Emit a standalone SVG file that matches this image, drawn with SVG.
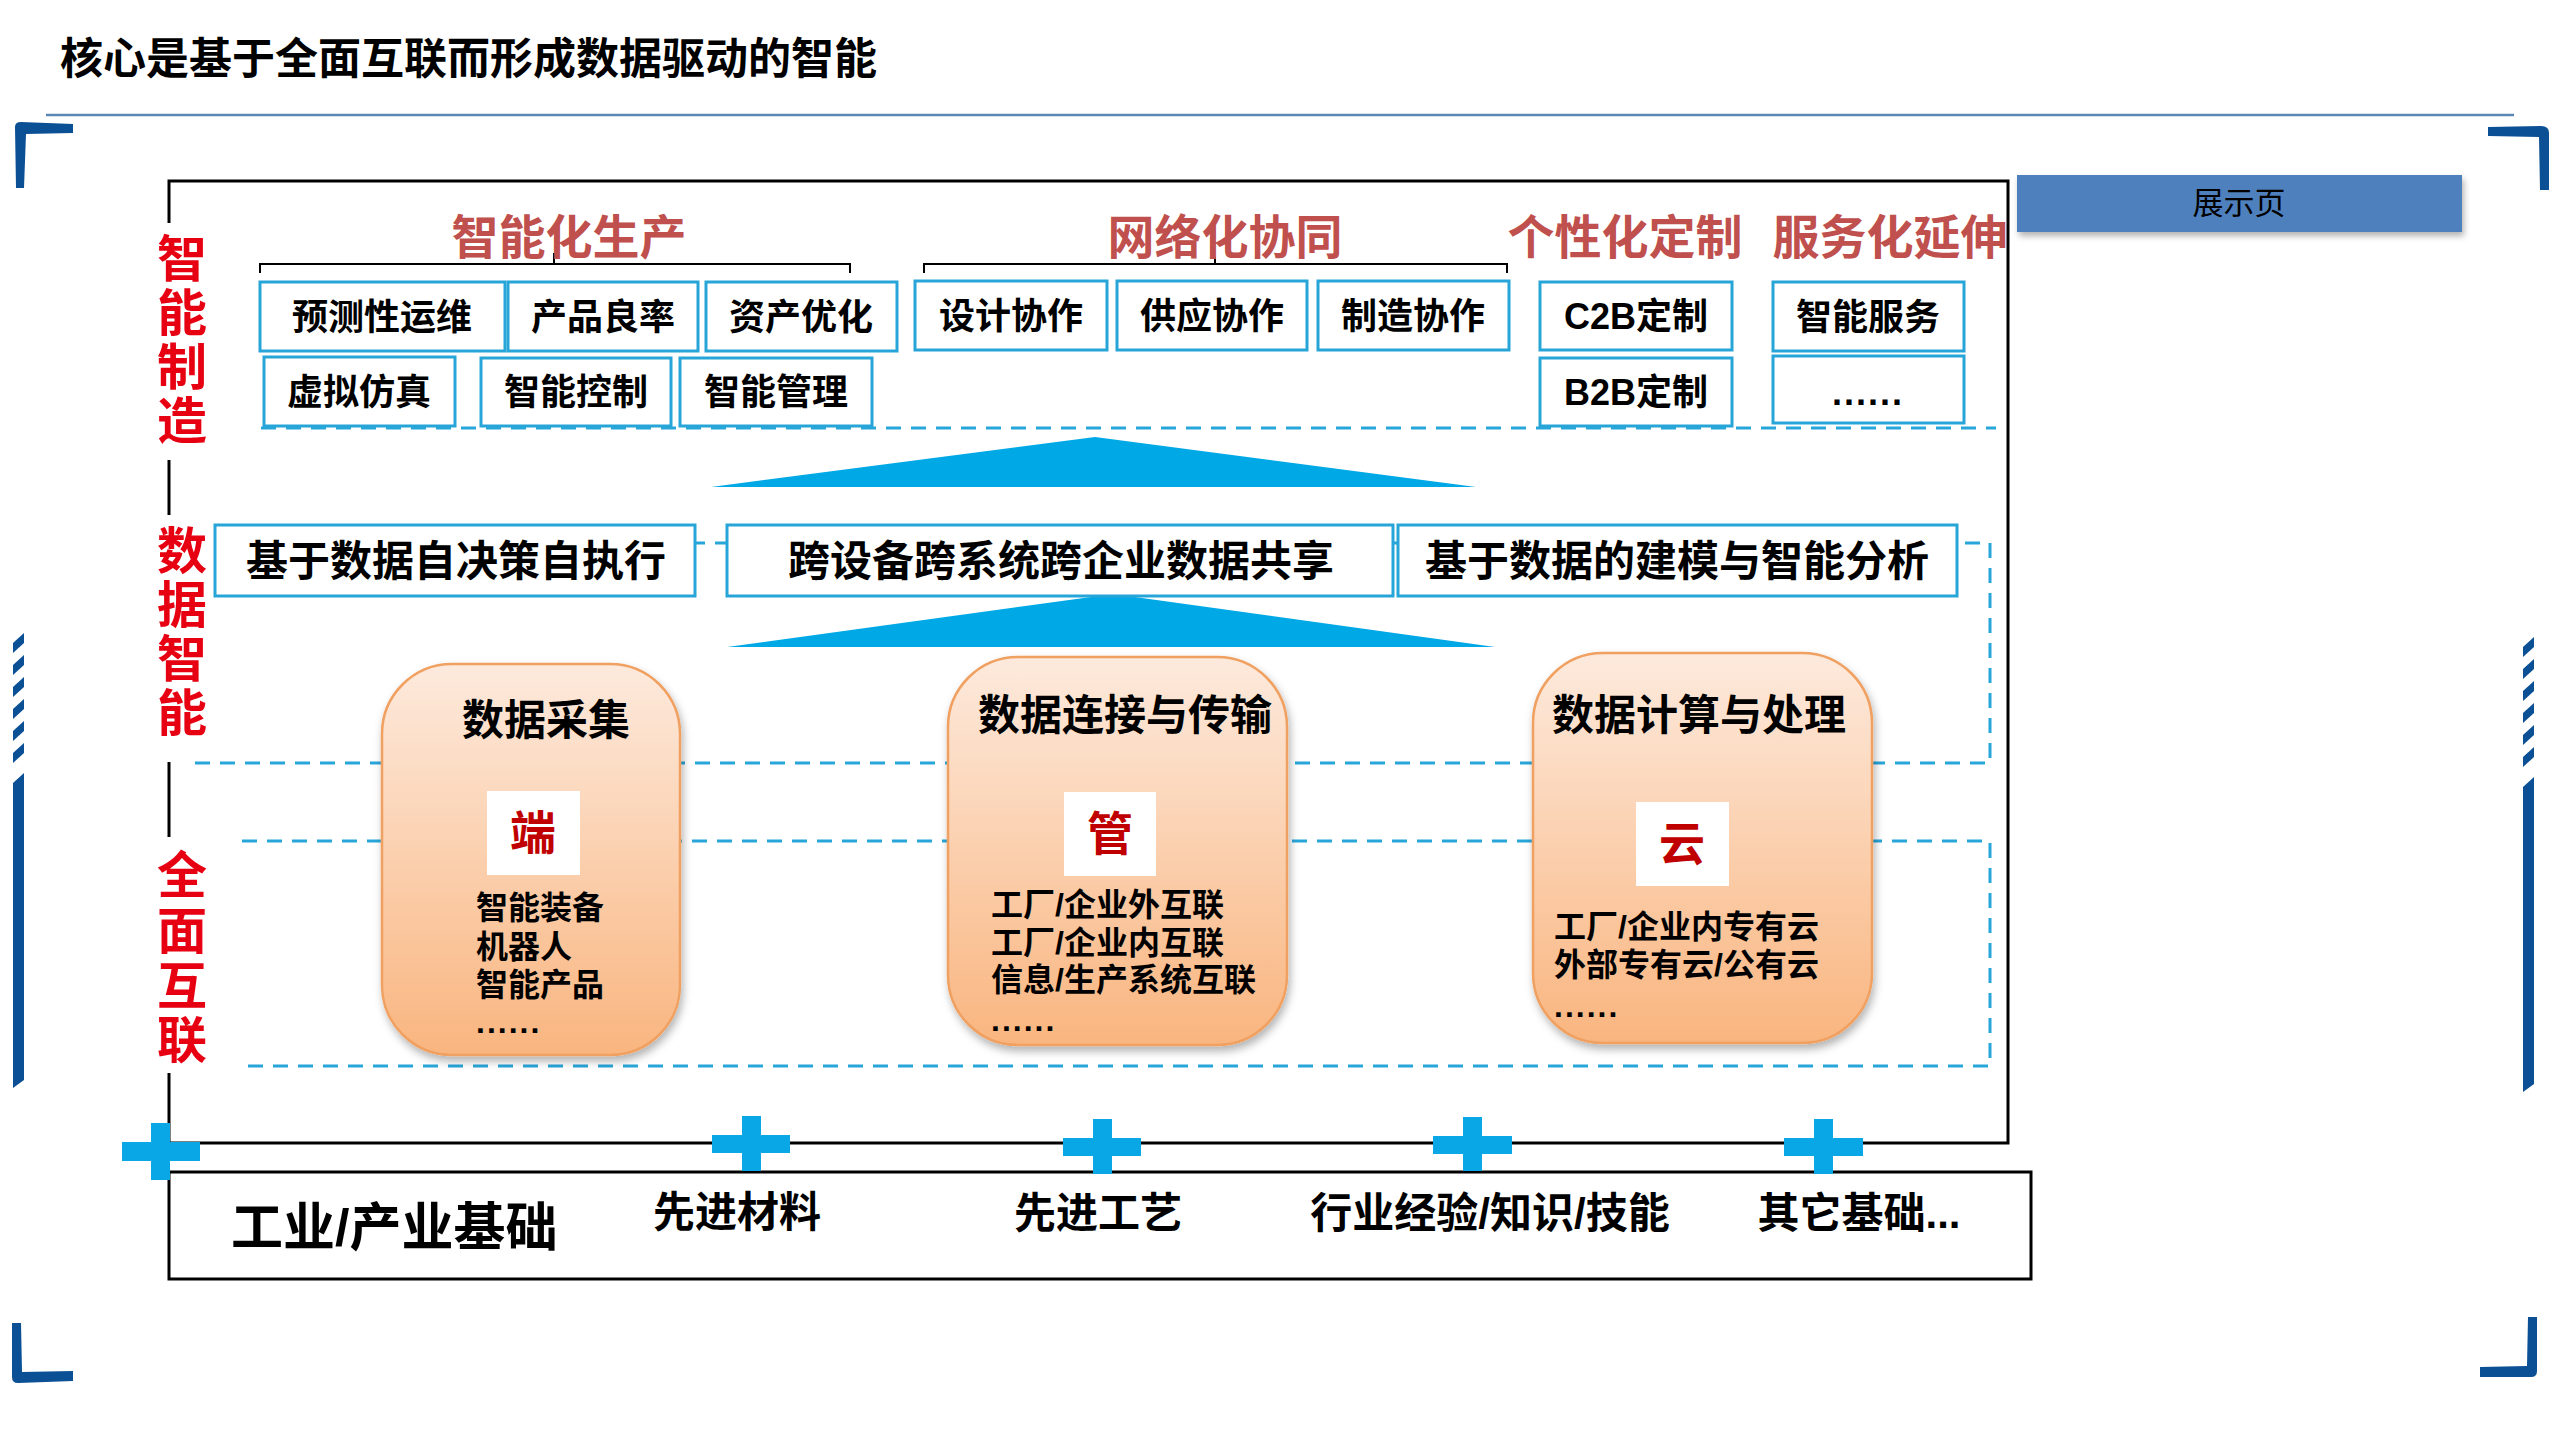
<svg xmlns="http://www.w3.org/2000/svg" width="2560" height="1440" viewBox="0 0 2560 1440">
<defs>
<style>
.t{font-family:'Liberation Sans','Noto Sans CJK SC',sans-serif;font-weight:bold;fill:#000;}
.c{text-anchor:middle;dominant-baseline:central;}
.red{font-family:'Liberation Sans','Noto Sans CJK SC',sans-serif;font-weight:bold;fill:#e60012;font-size:50px;text-anchor:middle;dominant-baseline:central;}
.hdr{font-family:'Liberation Sans','Noto Sans CJK SC',sans-serif;font-weight:bold;fill:#c0504d;font-size:47px;text-anchor:middle;dominant-baseline:central;}
.bx{fill:#fff;stroke:#27a5d8;stroke-width:3;}
.dash{fill:none;stroke:#29a6d9;stroke-width:3;stroke-dasharray:15 10;}
.blk{fill:none;stroke:#000;stroke-width:3;}
.brace{fill:none;stroke:#000;stroke-width:2;}
.plus{fill:#0aa7e6;}
.tri{fill:#00a9e6;}
.dk{fill:#0b4f94;}
.orange{fill:url(#og);stroke:#f0a060;stroke-width:2.5;filter:url(#sh);}
.sq{fill:#fff;}
.sqt{font-family:'Liberation Sans','Noto Sans CJK SC',sans-serif;font-weight:bold;fill:#c00000;font-size:46px;text-anchor:middle;dominant-baseline:central;}
</style>
<linearGradient id="og" x1="0" y1="0" x2="0" y2="1">
<stop offset="0" stop-color="#fdeadd"/>
<stop offset="1" stop-color="#f9b57f"/>
</linearGradient>
<filter id="sh" x="-10%" y="-10%" width="130%" height="130%">
<feDropShadow dx="2" dy="5" stdDeviation="4" flood-color="#000" flood-opacity="0.3"/>
</filter>
<filter id="sh2" x="-10%" y="-30%" width="130%" height="170%">
<feDropShadow dx="2" dy="4" stdDeviation="3" flood-color="#000" flood-opacity="0.3"/>
</filter>
</defs>
<rect width="2560" height="1440" fill="#fff"/>

<!-- title -->
<text class="t" x="60" y="59" font-size="43" dominant-baseline="central">核心是基于全面互联而形成数据驱动的智能</text>
<line x1="46" y1="115" x2="2514" y2="115" stroke="#5b87b5" stroke-width="2.5"/>

<!-- corner brackets -->
<g id="corners" class="dk">
<path d="M15,127 Q15,122 21,122 L73,124 L73,133 L26,134 L24,188 L16,188 Z"/>
<path d="M2488,127 L2541,126 Q2549,126 2549,133 L2549,190 L2540,190 L2539,137 L2488,136 Z"/>
<path d="M12,1323 L21,1323 L22,1372 L73,1371 L73,1381 L18,1383 Q12,1383 12,1377 Z"/>
<path d="M2528,1317 L2537,1317 L2537,1371 Q2537,1377 2531,1377 L2480,1377 L2480,1367 L2527,1366 Z"/>
</g>

<!-- side bars -->
<g id="sidebars" class="dk">
<polygon points="13,643 24,633 24,643 13,653"/>
<polygon points="13,665 24,655 24,665 13,675"/>
<polygon points="13,687 24,677 24,687 13,697"/>
<polygon points="13,709 24,699 24,709 13,719"/>
<polygon points="13,731 24,721 24,731 13,741"/>
<polygon points="13,753 24,743 24,753 13,763"/>
<polygon points="13,783 24,773 24,1080 13,1088"/>
<polygon points="2523,647 2534,637 2534,647 2523,657"/>
<polygon points="2523,669 2534,659 2534,669 2523,679"/>
<polygon points="2523,691 2534,681 2534,691 2523,701"/>
<polygon points="2523,713 2534,703 2534,713 2523,723"/>
<polygon points="2523,735 2534,725 2534,735 2523,745"/>
<polygon points="2523,757 2534,747 2534,757 2523,767"/>
<polygon points="2523,787 2534,777 2534,1084 2523,1092"/>
</g>

<!-- 展示页 -->
<g id="showpage">
<rect x="2017" y="175" width="445" height="57" fill="#5080be" filter="url(#sh2)"/>
<text class="t c" x="2239" y="203" font-size="31" style="font-weight:normal" fill="#1a1a1a">展示页</text>
</g>

<!-- main frame -->
<g id="frame" class="blk">
<path d="M169,223 V181 H2008 V1143 H169 V1073"/>
<line x1="169" y1="460" x2="169" y2="515"/>
<line x1="169" y1="762" x2="169" y2="837"/>
</g>

<!-- layer labels -->
<g id="label-zhineng">
<text class="red" x="182" y="260">智</text>
<text class="red" x="182" y="314">能</text>
<text class="red" x="182" y="368">制</text>
<text class="red" x="182" y="422">造</text>
</g>
<g id="label-shuju">
<text class="red" x="182" y="552">数</text>
<text class="red" x="182" y="606">据</text>
<text class="red" x="182" y="660">智</text>
<text class="red" x="182" y="714">能</text>
</g>
<g id="label-hulian">
<text class="red" x="182" y="876">全</text>
<text class="red" x="182" y="932">面</text>
<text class="red" x="182" y="987">互</text>
<text class="red" x="182" y="1041">联</text>
</g>

<!-- connectors: dashed layer lines, braces, triangles -->
<g id="connectors">
<line class="dash" x1="261" y1="428" x2="1996" y2="428"/>
<path class="dash" d="M215,543 H1990 V763 H192"/>
<path class="dash" d="M242,841 H1990 V1066 H242"/>
<path class="brace" d="M260,273 V264 H850 V273 M554,264 V253"/>
<path class="brace" d="M924,273 V264 H1507 V273 M1215,264 V257"/>
<polygon class="tri" points="1095,437 1476,487 711,487"/>
<polygon class="tri" points="1113,594 1495,647 727,647"/>
</g>

<!-- group headers -->
<g id="headers">
<text class="hdr" x="569" y="237">智能化生产</text>
<text class="hdr" x="1225" y="237">网络化协同</text>
<text class="hdr" x="1625" y="237">个性化定制</text>
<text class="hdr" x="1890" y="237">服务化延伸</text>
</g>

<!-- application boxes -->
<g id="n-yuce"><rect class="bx" x="260" y="282" width="245" height="69"/><text class="t c" x="382" y="317" font-size="36">预测性运维</text></g>
<g id="n-liangly"><rect class="bx" x="508" y="282" width="190" height="69"/><text class="t c" x="603" y="317" font-size="36">产品良率</text></g>
<g id="n-zichan"><rect class="bx" x="706" y="282" width="191" height="69"/><text class="t c" x="801" y="317" font-size="36">资产优化</text></g>
<g id="n-xuni"><rect class="bx" x="264" y="357" width="191" height="69"/><text class="t c" x="359" y="392" font-size="36">虚拟仿真</text></g>
<g id="n-kongzhi"><rect class="bx" x="481" y="358" width="190" height="68"/><text class="t c" x="576" y="392" font-size="36">智能控制</text></g>
<g id="n-guanli"><rect class="bx" x="680" y="358" width="192" height="68"/><text class="t c" x="776" y="392" font-size="36">智能管理</text></g>
<g id="n-sheji"><rect class="bx" x="915" y="281" width="192" height="69"/><text class="t c" x="1011" y="316" font-size="36">设计协作</text></g>
<g id="n-gongying"><rect class="bx" x="1117" y="281" width="190" height="69"/><text class="t c" x="1212" y="316" font-size="36">供应协作</text></g>
<g id="n-zhizao"><rect class="bx" x="1318" y="281" width="191" height="69"/><text class="t c" x="1413" y="316" font-size="36">制造协作</text></g>
<g id="n-c2b"><rect class="bx" x="1540" y="282" width="192" height="68"/><text class="t c" x="1636" y="316" font-size="36">C2B定制</text></g>
<g id="n-b2b"><rect class="bx" x="1540" y="358" width="192" height="68"/><text class="t c" x="1636" y="392" font-size="36">B2B定制</text></g>
<g id="n-fuwu"><rect class="bx" x="1773" y="282" width="191" height="69"/><text class="t c" x="1868" y="317" font-size="36">智能服务</text></g>
<g id="n-more"><rect class="bx" x="1773" y="356" width="191" height="67"/><text class="t c" x="1868" y="392" font-size="36" letter-spacing="2">......</text></g>

<!-- data intelligence boxes -->
<g id="n-juece"><rect class="bx" x="215" y="525" width="480" height="71"/><text class="t c" x="456" y="561" font-size="42">基于数据自决策自执行</text></g>
<g id="n-gongxiang"><rect class="bx" x="727" y="525" width="666" height="71"/><text class="t c" x="1061" y="561" font-size="42">跨设备跨系统跨企业数据共享</text></g>
<g id="n-jianmo"><rect class="bx" x="1398" y="525" width="559" height="71"/><text class="t c" x="1677" y="561" font-size="42">基于数据的建模与智能分析</text></g>

<!-- orange columns -->
<g id="n-caiji">
<rect class="orange" x="382" y="664" width="298" height="391" rx="70" ry="70"/>
<text class="t c" x="546" y="720" font-size="42">数据采集</text>
<rect class="sq" x="487" y="791" width="93" height="84"/>
<text class="sqt" x="533" y="833">端</text>
<text class="t" x="476" y="908" font-size="32" dominant-baseline="central">智能装备</text>
<text class="t" x="476" y="947" font-size="32" dominant-baseline="central">机器人</text>
<text class="t" x="476" y="985" font-size="32" dominant-baseline="central">智能产品</text>
<text class="t" x="476" y="1022" font-size="32" dominant-baseline="central" letter-spacing="2">......</text>
</g>
<g id="n-chuanshu">
<rect class="orange" x="948" y="657" width="339" height="388" rx="70" ry="70"/>
<text class="t c" x="1125" y="715" font-size="42">数据连接与传输</text>
<rect class="sq" x="1064" y="792" width="92" height="84"/>
<text class="sqt" x="1110" y="834">管</text>
<text class="t" x="991" y="905" font-size="32" dominant-baseline="central">工厂/企业外互联</text>
<text class="t" x="991" y="943" font-size="32" dominant-baseline="central">工厂/企业内互联</text>
<text class="t" x="991" y="980" font-size="32" dominant-baseline="central">信息/生产系统互联</text>
<text class="t" x="991" y="1020" font-size="32" dominant-baseline="central" letter-spacing="2">......</text>
</g>
<g id="n-jisuan">
<rect class="orange" x="1533" y="653" width="339" height="390" rx="70" ry="70"/>
<text class="t c" x="1699" y="715" font-size="42">数据计算与处理</text>
<rect class="sq" x="1636" y="802" width="93" height="84"/>
<text class="sqt" x="1682" y="844">云</text>
<text class="t" x="1554" y="927" font-size="32" dominant-baseline="central">工厂/企业内专有云</text>
<text class="t" x="1554" y="965" font-size="32" dominant-baseline="central">外部专有云/公有云</text>
<text class="t" x="1554" y="1006" font-size="32" dominant-baseline="central" letter-spacing="2">......</text>
</g>

<!-- foundation -->
<g id="n-jichu">
<rect class="blk" x="169" y="1172" width="1862" height="107"/>
<text class="t" x="231" y="1228" font-size="52" dominant-baseline="central">工业/产业基础</text>
<text class="t c" x="737" y="1212" font-size="42">先进材料</text>
<text class="t c" x="1098" y="1213" font-size="42">先进工艺</text>
<text class="t c" x="1490" y="1213" font-size="42">行业经验/知识/技能</text>
<text class="t c" x="1859" y="1213" font-size="42">其它基础...</text>
</g>

<!-- plus signs -->
<g id="pluses" class="plus">
<rect x="151" y="1123" width="19" height="57"/><rect x="122" y="1142" width="78" height="19"/>
<rect x="742" y="1116" width="19" height="55"/><rect x="712" y="1135" width="78" height="18"/>
<rect x="1093" y="1119" width="19" height="55"/><rect x="1063" y="1138" width="78" height="18"/>
<rect x="1463" y="1117" width="19" height="54"/><rect x="1433" y="1136" width="79" height="18"/>
<rect x="1814" y="1119" width="19" height="55"/><rect x="1784" y="1138" width="79" height="18"/>
</g>
</svg>
